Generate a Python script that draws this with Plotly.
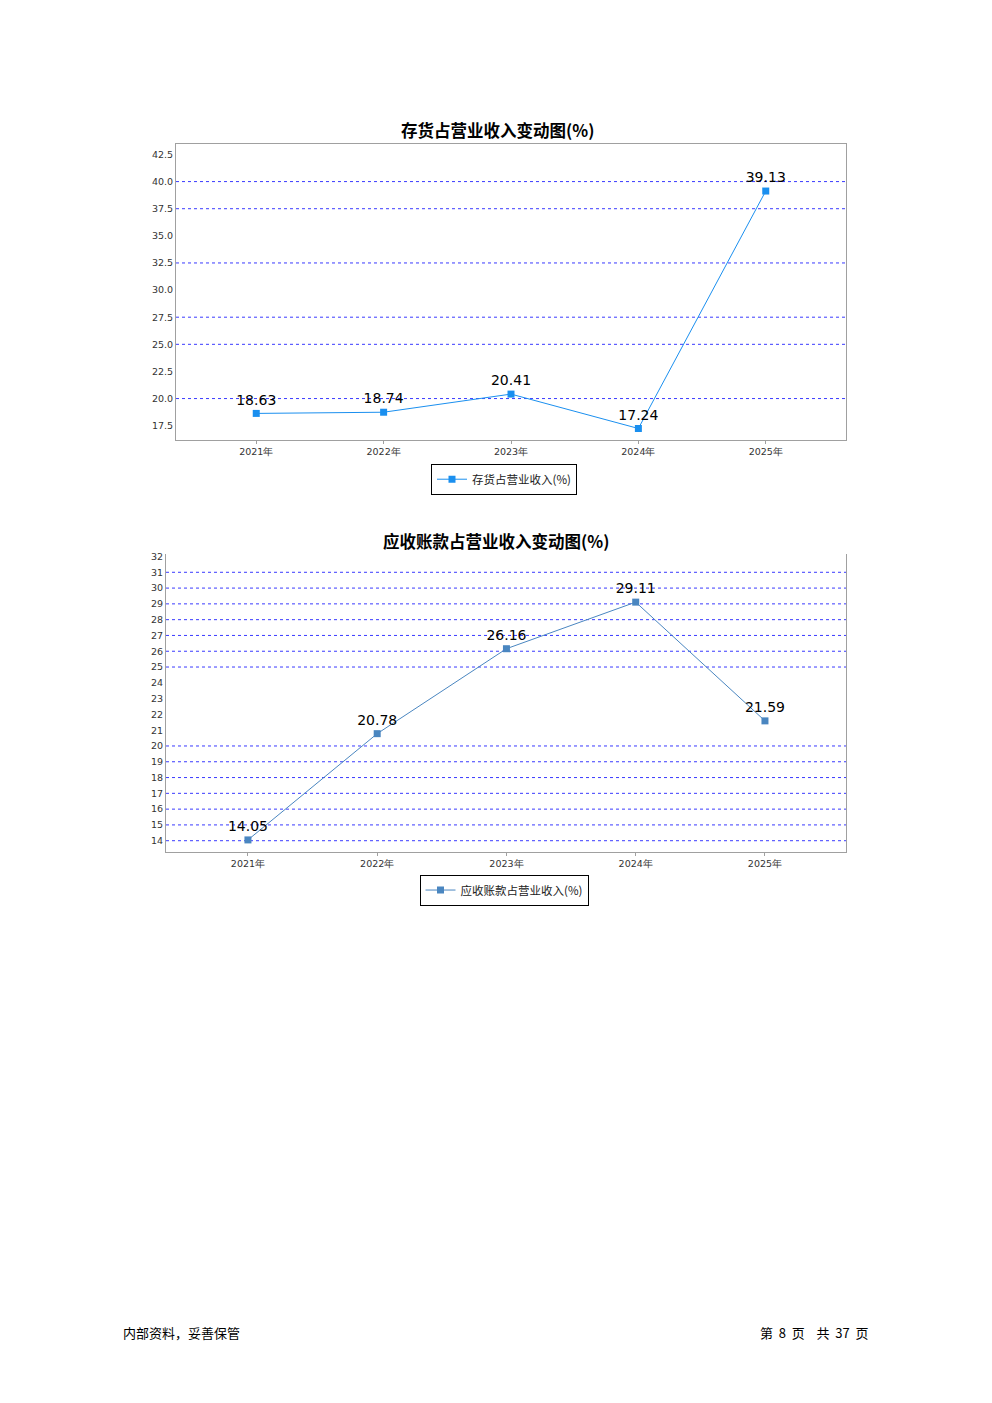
import plotly.graph_objects as go

years = ["2021年", "2022年", "2023年", "2024年", "2025年"]
inventory_pct = [18.63, 18.74, 20.41, 17.24, 39.13]
receivable_pct = [14.05, 20.78, 26.16, 29.11, 21.59]

# the source only shows some of the gridlines
grid1 = [20.0, 25.0, 27.5, 32.5, 37.5, 40.0]
grid2 = [14, 15, 16, 17, 18, 19, 20, 25, 26, 27, 28, 29, 30, 31]

W, H = 992, 1403
OFFX, OFFY = 8, 11  # page body margin / fine shift
FONT = "Noto Sans CJK SC"


def px(x):
    return (x - OFFX) / W


def py(y):
    return 1 - (y - OFFY) / H


fig = go.Figure()

fig.add_trace(go.Scatter(
    x=years, y=inventory_pct, mode="lines+markers+text",
    name="存货占营业收入(%)", xaxis="x", yaxis="y", legend="legend",
    showlegend=True,
    line=dict(color="#1a8fef", width=1),
    marker=dict(symbol="square", size=7, color="#1a8fef"),
    text=[f"{v:.2f}" for v in inventory_pct], textposition="top center",
    textfont=dict(size=14, color="black", family="DejaVu Sans"),
    cliponaxis=False,
))
fig.add_trace(go.Scatter(
    x=years, y=receivable_pct, mode="lines+markers+text",
    name="应收账款占营业收入(%)", xaxis="x2", yaxis="y2", legend="legend2",
    showlegend=True,
    line=dict(color="#4a86c0", width=1),
    marker=dict(symbol="square", size=7, color="#4a86c0"),
    text=[f"{v:.2f}" for v in receivable_pct], textposition="top center",
    textfont=dict(size=14, color="black", family="DejaVu Sans"),
    cliponaxis=False,
))

tickfont = dict(size=9.5, color="#333333", family="DejaVu Sans")
gridline = dict(color="#3a3aff", width=1, dash="dot")

shapes = []
for g in grid1:
    shapes.append(dict(type="line", xref="x domain", yref="y", x0=0, x1=1, y0=g, y1=g,
                       line=gridline, layer="below"))
for g in grid2:
    shapes.append(dict(type="line", xref="x2 domain", yref="y2", x0=0, x1=1, y0=g, y1=g,
                       line=gridline, layer="below"))

legend_style = dict(x=0.5, xanchor="center", yanchor="top",
                    bordercolor="black", borderwidth=1, bgcolor="white",
                    font=dict(size=11.5, color="#222222"), itemwidth=30)

fig.update_layout(
    width=W, height=H,
    margin=dict(l=0, r=0, t=0, b=0),
    paper_bgcolor="white", plot_bgcolor="white",
    font=dict(family=FONT),
    xaxis=dict(domain=[px(176), px(846)], anchor="y", range=[-0.63, 4.63],
               showgrid=False, showline=True, linecolor="#a0a0a0", mirror=True,
               ticks="outside", ticklen=3, tickcolor="#a0a0a0", tickfont=tickfont),
    yaxis=dict(domain=[py(440), py(143)], anchor="x", range=[16.2, 43.5],
               tick0=17.5, dtick=2.5, tickformat=".1f", showgrid=False,
               showline=True, linecolor="#a0a0a0", mirror=True,
               ticks="", tickfont=tickfont, zeroline=False),
    xaxis2=dict(domain=[px(166), px(846)], anchor="y2", range=[-0.634, 4.627],
                showgrid=False, showline=True, linecolor="#a0a0a0",
                ticks="outside", ticklen=3, tickcolor="#a0a0a0", tickfont=tickfont),
    yaxis2=dict(domain=[py(853), py(555)], anchor="x2", range=[13.31, 32.13],
                tick0=14, dtick=1, showgrid=False,
                showline=True, linecolor="#a0a0a0", mirror=True,
                ticks="", tickfont=tickfont, zeroline=False),
    legend=dict(legend_style, y=py(464)),
    legend2=dict(legend_style, y=py(876)),
    shapes=shapes,
    annotations=[
        dict(text="<b>存货占营业收入变动图(%)</b>", x=px(497), y=py(129),
             xref="paper", yref="paper", yanchor="middle", showarrow=False,
             font=dict(size=16.5, color="black")),
        dict(text="<b>应收账款占营业收入变动图(%)</b>", x=px(496), y=py(542),
             xref="paper", yref="paper", yanchor="middle", showarrow=False,
             font=dict(size=16.5, color="black")),
        dict(text="内部资料，妥善保管", x=px(121), y=py(1335), xanchor="left",
             xref="paper", yref="paper", yanchor="middle", showarrow=False,
             font=dict(size=13, color="black")),
        dict(text="第&nbsp;&nbsp;8&nbsp;&nbsp;页&nbsp;&nbsp;&nbsp;&nbsp;共&nbsp;&nbsp;37&nbsp;&nbsp;页",
             x=px(871), y=py(1335), xanchor="right",
             xref="paper", yref="paper", yanchor="middle", showarrow=False,
             font=dict(size=13, color="black")),
    ],
)

fig.write_html("out.html")
